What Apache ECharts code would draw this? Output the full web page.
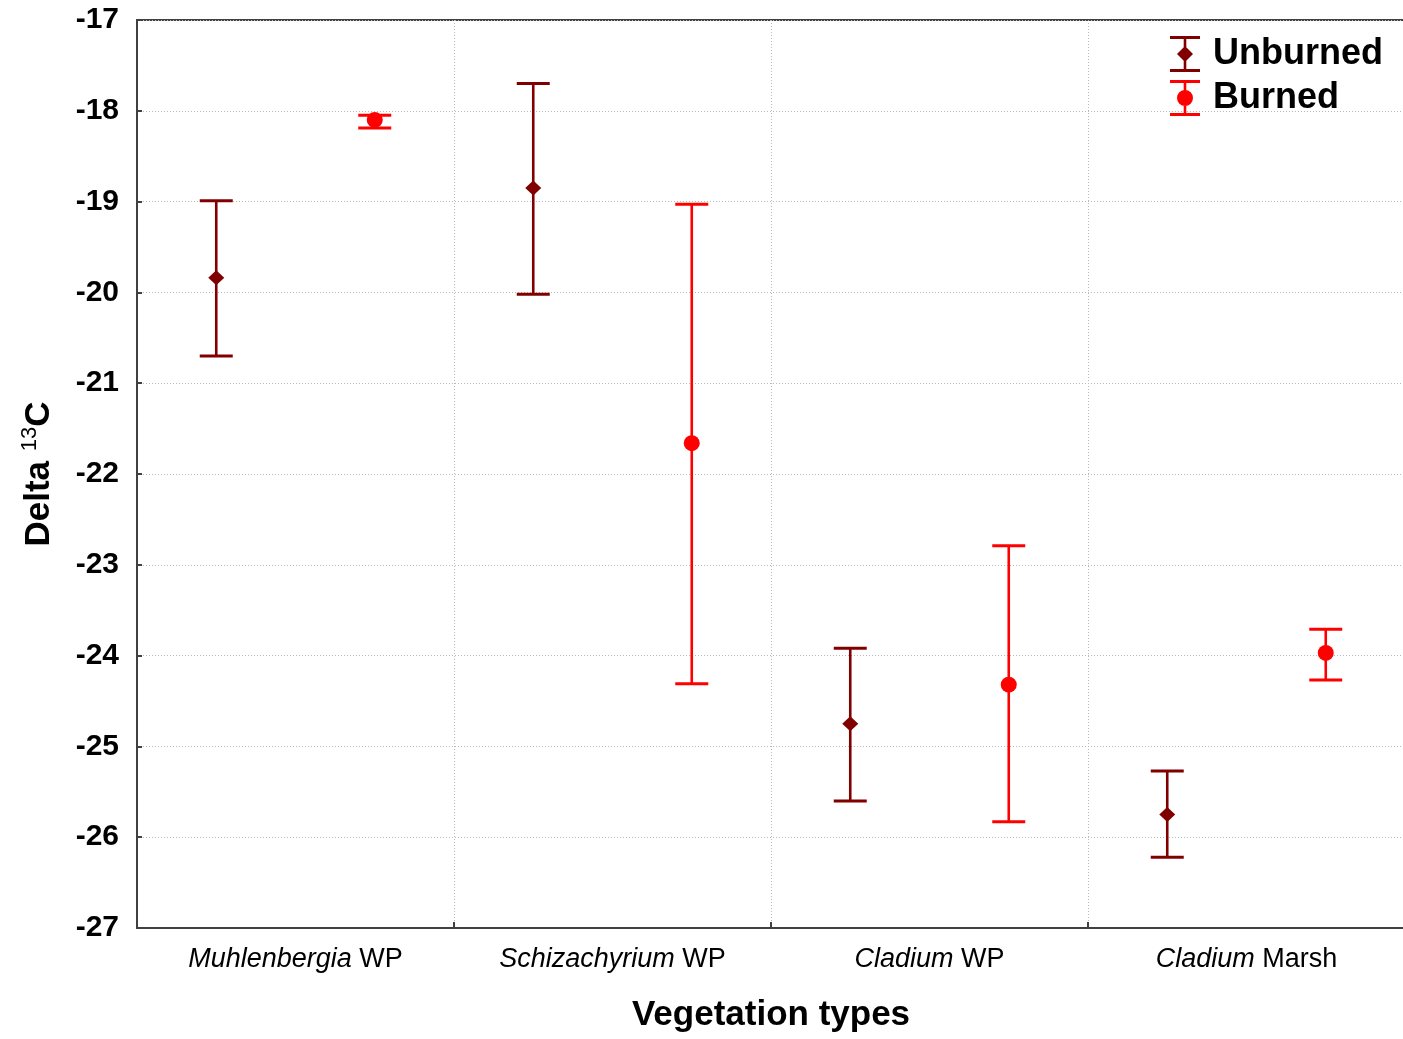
<!DOCTYPE html>
<html>
<head>
<meta charset="utf-8">
<title>Delta 13C by vegetation type</title>
<script src="https://cdn.jsdelivr.net/npm/echarts@6/dist/echarts.min.js"></script>
<style>
  html, body { margin: 0; padding: 0; background: #ffffff; }
  #chart { width: 1403px; height: 1039px; }
</style>
</head>
<body>
<div id="chart"></div>
<script>
// Vegetation types (first word is the genus, set in italics)
const categories = ['Muhlenbergia WP', 'Schizachyrium WP', 'Cladium WP', 'Cladium Marsh'];

// Unburned: mean with lower / upper bounds of the error bar
const unburnedMean = [-19.84, -18.85, -24.75, -25.75];
const unburnedLow  = [-20.70, -20.02, -25.60, -26.22];
const unburnedHigh = [-18.99, -17.70, -23.92, -25.27];

// Burned: mean with lower / upper bounds of the error bar
const burnedMean = [-18.10, -21.66, -24.32, -23.97];
const burnedLow  = [-18.19, -24.31, -25.83, -24.27];
const burnedHigh = [-18.05, -19.03, -22.79, -23.71];

// Y axis range and step
const yMin = -27, yMax = -17, yStep = 1;

const FONT = '"Liberation Sans", Arial, sans-serif';
const DARK_RED = '#800000';
const RED = '#ff0000';

function rows(mean, low, high) {
  return categories.map((c, i) => [i, mean[i], low[i], high[i]]);
}

// Error bar with marker; side = -1 puts it in the left half of the band, +1 in the right half
function makeRenderer(side, shape) {
  return function (params, api) {
    const ci = api.value(0);
    const band = api.size([1, 0])[0];
    const off = side * band / 4;
    const pm = api.coord([ci, api.value(1)]);
    const pl = api.coord([ci, api.value(2)]);
    const ph = api.coord([ci, api.value(3)]);
    const x = pm[0] + off;
    const color = api.visual('color');
    const capHalf = 16.5;
    const lineStyle = { stroke: color, lineWidth: 2.6 };
    const capStyle = { stroke: color, lineWidth: 3 };
    const children = [
      { type: 'line', shape: { x1: x, y1: ph[1], x2: x, y2: pl[1] }, style: lineStyle },
      { type: 'line', shape: { x1: x - capHalf, y1: ph[1], x2: x + capHalf, y2: ph[1] }, style: capStyle },
      { type: 'line', shape: { x1: x - capHalf, y1: pl[1], x2: x + capHalf, y2: pl[1] }, style: capStyle }
    ];
    if (shape === 'diamond') {
      children.push({
        type: 'polygon',
        shape: { points: [[x, pm[1] - 7.5], [x + 8, pm[1]], [x, pm[1] + 7.5], [x - 8, pm[1]]] },
        style: { fill: color }
      });
    } else {
      children.push({ type: 'circle', shape: { cx: x, cy: pm[1], r: 8 }, style: { fill: color } });
    }
    return { type: 'group', children: children };
  };
}

// Legend glyphs: an error bar with the series marker on it
const iconUnburned = 'path://M0,0 H30 V3 H0 Z M13.7,0 H16.3 V36 H13.7 Z M0,33 H30 V36 H0 Z M15,10 L23,18 L15,26 L7,18 Z';
const iconBurned = 'path://M0,0 H30 V3 H0 Z M13.7,0 H16.3 V36 H13.7 Z M0,33 H30 V36 H0 Z M15,10 A8,8 0 1,1 15,26 A8,8 0 1,1 15,10 Z';

const chart = echarts.init(document.getElementById('chart'), null, { renderer: 'canvas' });

chart.setOption({
  backgroundColor: '#ffffff',
  animation: false,
  textStyle: { fontFamily: FONT },
  grid: {
    left: 137, top: 20, width: 1268, height: 908,
    containLabel: false,
    outerBoundsMode: 'none',
    show: true, borderColor: '#404040', borderWidth: 2, backgroundColor: 'transparent'
  },
  legend: {
    orient: 'vertical',
    left: 1165, top: 31,
    itemWidth: 30, itemHeight: 36, itemGap: 8,
    selectedMode: false,
    textStyle: { fontFamily: FONT, fontSize: 36, fontWeight: 'bold', color: '#000', padding: [0, 0, 0, 8] },
    data: [
      { name: 'Unburned', icon: iconUnburned },
      { name: 'Burned', icon: iconBurned }
    ]
  },
  xAxis: {
    type: 'category',
    data: categories,
    boundaryGap: true,
    name: 'Vegetation types',
    nameLocation: 'middle',
    nameGap: 70,
    nameTextStyle: { fontFamily: FONT, fontSize: 35, fontWeight: 'bold', color: '#000' },
    axisLine: { show: true, lineStyle: { color: '#404040', width: 2 } },
    axisTick: { show: true, inside: true, length: 6, interval: 0, lineStyle: { color: '#404040', width: 2 } },
    axisLabel: {
      interval: 0,
      margin: 18,
      formatter: function (v) {
        const k = v.indexOf(' ');
        return '{i|' + v.slice(0, k) + '}{n| ' + v.slice(k + 1) + '}';
      },
      rich: {
        i: { fontFamily: FONT, fontSize: 27, fontStyle: 'italic', color: '#000' },
        n: { fontFamily: FONT, fontSize: 27, color: '#000' }
      }
    },
    splitLine: { show: true, interval: 0, lineStyle: { color: '#b8b8b8', width: 1, type: [1, 2] } }
  },
  yAxis: {
    type: 'value',
    min: yMin, max: yMax, interval: yStep,
    name: '{n|Delta }{s|13}{n|C}',
    nameLocation: 'middle',
    nameRotate: 90,
    nameGap: 78,
    nameTextStyle: {
      rich: {
        n: { fontFamily: FONT, fontSize: 35, fontWeight: 'bold', color: '#000', lineHeight: 40 },
        s: { fontFamily: FONT, fontSize: 22, color: '#000', verticalAlign: 'top', lineHeight: 40 }
      }
    },
    axisLine: { show: true, lineStyle: { color: '#404040', width: 2 } },
    axisTick: { show: true, inside: true, length: 5, lineStyle: { color: '#404040', width: 2 } },
    axisLabel: { fontFamily: FONT, fontSize: 30, fontWeight: 'bold', color: '#000', margin: 18 },
    splitLine: { show: true, lineStyle: { color: '#b8b8b8', width: 1, type: [1, 2] } }
  },
  series: [
    {
      name: 'Unburned',
      type: 'custom',
      itemStyle: { color: DARK_RED },
      renderItem: makeRenderer(-1, 'diamond'),
      encode: { x: 0, y: [1, 2, 3] },
      data: rows(unburnedMean, unburnedLow, unburnedHigh),
      z: 3
    },
    {
      name: 'Burned',
      type: 'custom',
      itemStyle: { color: RED },
      renderItem: makeRenderer(1, 'circle'),
      encode: { x: 0, y: [1, 2, 3] },
      data: rows(burnedMean, burnedLow, burnedHigh),
      z: 3
    }
  ]
});
</script>
</body>
</html>
